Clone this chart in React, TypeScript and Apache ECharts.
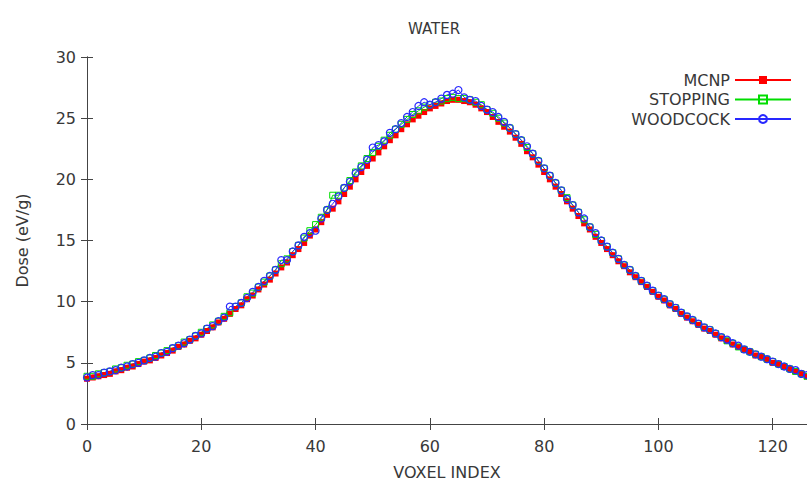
import React, { useEffect, useRef } from "react";
import * as echarts from "echarts";

const voxelIndex: number[] = Array.from({ length: 127 }, (_, i) => i);

const mcnp: number[] = [
  3.7, 3.8, 3.9, 4.0, 4.1, 4.3, 4.4, 4.6, 4.7, 4.9,
  5.1, 5.2, 5.4, 5.6, 5.8, 6.0, 6.3, 6.5, 6.8, 7.0,
  7.3, 7.6, 7.9, 8.3, 8.6, 9.0, 9.4, 9.7, 10.2, 10.5,
  11.0, 11.4, 11.8, 12.3, 12.8, 13.2, 13.8, 14.3, 14.8, 15.4,
  15.9, 16.5, 17.1, 17.6, 18.2, 18.8, 19.4, 20.0, 20.6, 21.1,
  21.7, 22.2, 22.7, 23.2, 23.6, 24.1, 24.5, 24.9, 25.2, 25.5,
  25.8, 26.0, 26.2, 26.4, 26.5, 26.5, 26.4, 26.3, 26.1, 25.8,
  25.5, 25.1, 24.7, 24.3, 23.9, 23.4, 22.9, 22.3, 21.8, 21.2,
  20.6, 20.0, 19.4, 18.8, 18.2, 17.6, 17.0, 16.4, 15.9, 15.3,
  14.8, 14.3, 13.8, 13.3, 12.9, 12.4, 12.0, 11.6, 11.2, 10.8,
  10.4, 10.1, 9.7, 9.4, 9.0, 8.7, 8.4, 8.1, 7.8, 7.6,
  7.3, 7.0, 6.8, 6.5, 6.3, 6.1, 5.9, 5.6, 5.5, 5.3,
  5.0, 4.9, 4.7, 4.5, 4.3, 4.1, 3.9,
];

const stopping: number[] = [
  3.9, 3.9, 4.1, 4.2, 4.3, 4.5, 4.6, 4.8, 4.9, 5.1,
  5.2, 5.4, 5.6, 5.8, 6.0, 6.2, 6.4, 6.7, 6.9, 7.2,
  7.5, 7.8, 8.1, 8.4, 8.8, 9.1, 9.6, 9.9, 10.4, 10.7,
  11.2, 11.6, 12.1, 12.6, 13.1, 13.5, 14.1, 14.6, 15.2, 15.8,
  16.3, 16.9, 17.5, 18.7, 18.7, 19.3, 19.9, 20.6, 21.1, 21.7,
  22.2, 22.7, 23.2, 23.6, 24.1, 24.5, 24.9, 25.3, 25.6, 25.9,
  26.1, 26.3, 26.4, 26.6, 26.7, 26.6, 26.6, 26.5, 26.3, 26.1,
  25.7, 25.4, 25.0, 24.6, 24.2, 23.7, 23.2, 22.6, 22.1, 21.5,
  20.9, 20.3, 19.7, 19.1, 18.5, 17.9, 17.3, 16.7, 16.1, 15.5,
  15.0, 14.5, 14.0, 13.5, 13.0, 12.6, 12.1, 11.7, 11.3, 10.9,
  10.5, 10.2, 9.8, 9.5, 9.1, 8.8, 8.5, 8.2, 7.9, 7.7,
  7.4, 7.1, 6.8, 6.6, 6.3, 6.1, 5.9, 5.7, 5.5, 5.3,
  5.1, 4.9, 4.7, 4.5, 4.3, 4.1, 3.9,
];

const woodcock: number[] = [
  3.8, 4.0, 4.0, 4.2, 4.3, 4.4, 4.6, 4.7, 4.9, 5.0,
  5.2, 5.4, 5.5, 5.8, 5.9, 6.2, 6.4, 6.6, 6.9, 7.2,
  7.4, 7.8, 8.0, 8.4, 8.7, 9.6, 9.6, 9.9, 10.3, 10.8,
  11.2, 11.7, 12.1, 12.6, 13.4, 13.4, 14.1, 14.6, 15.3, 15.6,
  15.8, 16.8, 17.5, 18.0, 18.6, 19.3, 19.8, 20.5, 21.0, 21.6,
  22.6, 22.8, 23.1, 23.8, 24.1, 24.6, 25.1, 25.5, 26.0, 26.3,
  26.1, 26.3, 26.6, 26.9, 27.0, 27.3, 26.7, 26.5, 26.4, 26.0,
  25.7, 25.5, 25.1, 24.7, 24.2, 23.7, 23.2, 22.7, 22.1, 21.5,
  20.9, 20.3, 19.7, 19.1, 18.4, 17.9, 17.3, 16.8, 16.1, 15.6,
  15.0, 14.5, 14.0, 13.5, 13.0, 12.6, 12.1, 11.7, 11.3, 10.9,
  10.5, 10.2, 9.8, 9.5, 9.1, 8.8, 8.5, 8.2, 7.9, 7.7,
  7.4, 7.1, 6.9, 6.6, 6.4, 6.1, 5.9, 5.7, 5.5, 5.3,
  5.1, 4.9, 4.7, 4.5, 4.4, 4.1, 4.0,
];

const FONT = "DejaVu Sans";
const TEXT = "#383838";
const AXIS = "#444444";

export default function App() {
  const ref = useRef<HTMLDivElement>(null);
  useEffect(() => {
    if (!ref.current) return;
    const chart = echarts.init(ref.current, null, { renderer: "svg" });
    const pair = (arr: number[]) => voxelIndex.map((x, i) => [x, arr[i]]);
    const tick = { show: true, inside: true, length: 6, lineStyle: { color: AXIS } };
    const line = { show: true, lineStyle: { color: AXIS, width: 1 } };
    chart.setOption({
      animation: false,
      backgroundColor: "#ffffff",
      textStyle: { fontFamily: FONT },
      title: {
        text: "WATER",
        left: 403,
        top: 16,
        textStyle: { fontFamily: FONT, fontSize: 15, fontWeight: "normal", color: TEXT },
      },
      grid: { left: 87, right: 0, top: 57, bottom: 63 },
      legend: {
        orient: "vertical",
        right: 10,
        top: 67,
        align: "right",
        itemWidth: 56,
        itemHeight: 10,
        itemGap: 3.5,
        textStyle: { fontFamily: FONT, fontSize: 16, color: TEXT },
        data: ["MCNP", "STOPPING", "WOODCOCK"],
      },
      xAxis: [
        {
          type: "value",
          position: "bottom",
          min: 0,
          max: 126,
          interval: 20,
          name: "VOXEL INDEX",
          nameLocation: "middle",
          nameGap: 40,
          nameTextStyle: { fontFamily: FONT, fontSize: 16, color: TEXT },
          axisLine: line,
          axisTick: tick,
          splitLine: { show: false },
          axisLabel: { fontFamily: FONT, fontSize: 16, color: TEXT, margin: 14, showMaxLabel: false },
        },
        {
          type: "value",
          position: "top",
          min: 0,
          max: 126,
          interval: 20,
          axisLine: line,
          axisTick: tick,
          splitLine: { show: false },
          axisLabel: { show: false },
        },
      ],
      yAxis: [
        {
          type: "value",
          position: "left",
          min: 0,
          max: 30,
          interval: 5,
          name: "Dose (eV/g)",
          nameLocation: "middle",
          nameGap: 57,
          nameTextStyle: { fontFamily: FONT, fontSize: 16, color: TEXT },
          axisLine: line,
          axisTick: tick,
          splitLine: { show: false },
          axisLabel: { fontFamily: FONT, fontSize: 16, color: TEXT, margin: 11 },
        },
        {
          type: "value",
          position: "right",
          min: 0,
          max: 30,
          interval: 5,
          axisLine: line,
          axisTick: tick,
          splitLine: { show: false },
          axisLabel: { show: false },
        },
      ],
      series: [
        {
          name: "MCNP",
          type: "line",
          data: pair(mcnp),
          symbol: "rect",
          symbolSize: 6,
          showAllSymbol: true,
          lineStyle: { color: "#ff0000", width: 1 },
          itemStyle: { color: "#ff0000" },
        },
        {
          name: "STOPPING",
          type: "line",
          data: pair(stopping),
          symbol: "rect",
          symbolSize: 6,
          showAllSymbol: true,
          lineStyle: { color: "#00dd00", width: 1 },
          itemStyle: { color: "rgba(0,0,0,0)", borderColor: "#00dd00", borderWidth: 1 },
        },
        {
          name: "WOODCOCK",
          type: "line",
          data: pair(woodcock),
          symbol: "circle",
          symbolSize: 7,
          showAllSymbol: true,
          lineStyle: { color: "#2828ff", width: 1 },
          itemStyle: { color: "rgba(0,0,0,0)", borderColor: "#2828ff", borderWidth: 1.2 },
        },
      ],
    });
    return () => chart.dispose();
  }, []);
  return (
    <div
      ref={ref}
      style={{ position: "fixed", left: 0, top: 0, width: 807, height: 487 }}
    />
  );
}
